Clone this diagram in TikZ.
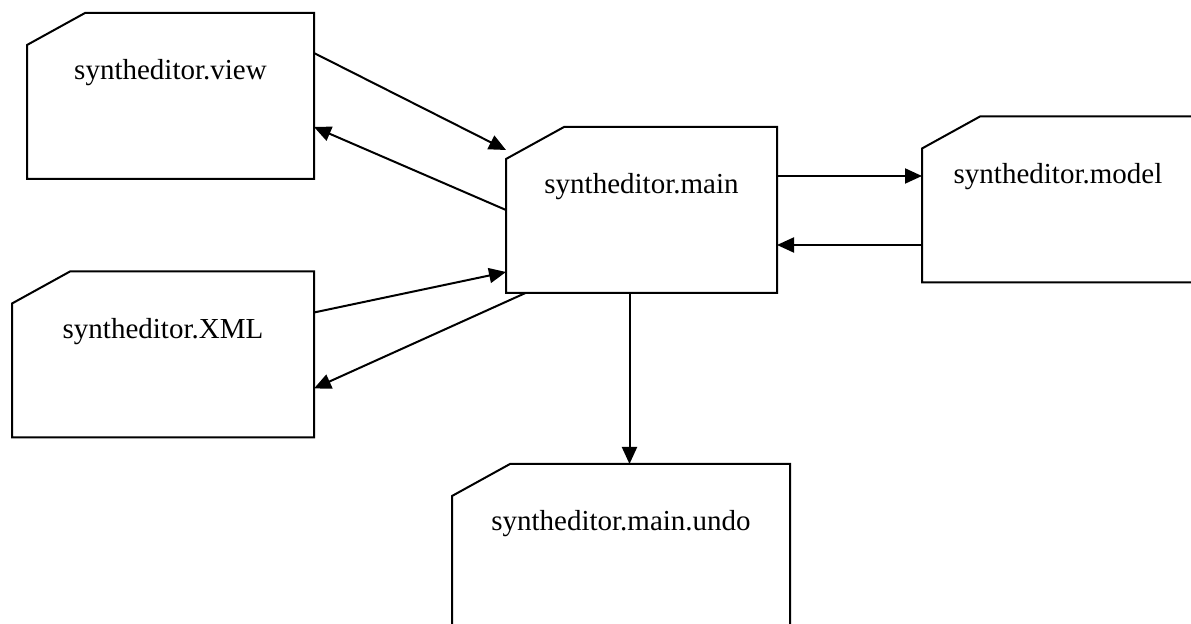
\documentclass[tikz,border=0pt]{standalone}
\usepackage{fontspec}
\setmainfont{Liberation Serif}
\usetikzlibrary{arrows.meta}
\begin{document}
\begin{tikzpicture}[x=0.5pt, y=-0.5pt, line width=1pt, line join=miter,
	font=\fontsize{14.5}{17}\selectfont,
	pkg/.style={rectangle, outer sep=0pt, inner sep=0pt, minimum height=83pt},
	dep/.style={-{Triangle[length=8.5pt, width=7.5pt]}}]
	\useasboundingbox (0,0) rectangle (1191,624);
	
	% Các gói
	\node[pkg, minimum width=143.5pt, label={[anchor=center, yshift=-30pt]north:syntheditor.view}] (view) at (170.5,96) {};
	\node[pkg, minimum width=151pt, label={[anchor=center, yshift=-30pt]north:syntheditor.XML}] (xml) at (163,354.5) {};
	\node[pkg, minimum width=135.5pt, label={[anchor=center, yshift=-30pt]north:syntheditor.main}] (main) at (641.5,210) {};
	\node[pkg, minimum width=136pt, label={[anchor=center, yshift=-30pt]north:syntheditor.model}] (model) at (1058,199.5) {};
	\node[pkg, minimum width=169pt, label={[anchor=center, yshift=-30pt]north:syntheditor.main.undo}] (undo) at (621,547) {};
	
	% Khung gói có góc vát
	\foreach \n in {view,xml,main,model,undo}
		\draw ([yshift=-16pt]\n.north west) -- ([xshift=29pt]\n.north west) -- (\n.north east)
			-- (\n.south east) -- (\n.south west) -- cycle;
	
	% Các mũi tên phụ thuộc
	\draw[dep] ([yshift=21.5pt]view.east) -- ([yshift=30pt]main.west);
	\draw[dep] (main.west) -- ([yshift=-15.5pt]view.east);
	\draw[dep] ([yshift=21pt]xml.east) -- ([yshift=-31pt]main.west);
	\draw[dep] ([xshift=-58pt]main.south) -- ([yshift=-17pt]xml.east);
	\draw[dep] ([xshift=-6pt]main.south) -- ([xshift=-6pt]main.south |- undo.north);
	\draw[dep] ([yshift=17pt]main.east) -- ([yshift=17pt]main.east -| model.west);
	\draw[dep] ([yshift=-22.75pt]model.west) -- ([yshift=-22.75pt]model.west -| main.east);
\end{tikzpicture}
\end{document}
